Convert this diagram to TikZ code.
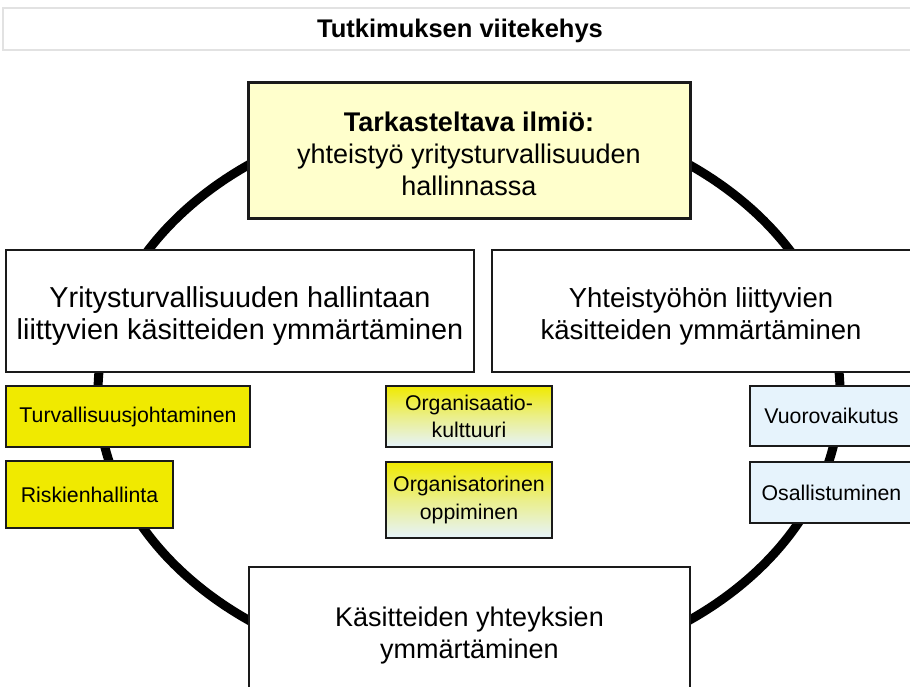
\documentclass[tikz,border=0pt]{standalone}
\usepackage{fontspec}
\setmainfont{Liberation Sans}
\definecolor{phenfill}{RGB}{255,255,204}
\definecolor{conceptyellow}{RGB}{240,234,0}
\definecolor{conceptblue}{RGB}{230,243,252}
\definecolor{edgeline}{RGB}{26,26,26}
\definecolor{titleedge}{RGB}{226,226,226}
\tikzset{
  bigbox/.style={draw=edgeline, line width=2pt, fill=white, inner sep=0pt},
  bigtext/.style={inner sep=0pt, align=center, font=\fontsize{27}{32}\selectfont},
  smallbox/.style={draw=edgeline, line width=2pt, inner sep=0pt,
    align=center, font=\fontsize{21.3}{27.5}\selectfont},
  yellowbox/.style={smallbox, fill=conceptyellow},
  bluebox/.style={smallbox, fill=conceptblue},
  mixbox/.style={smallbox, top color=conceptyellow, bottom color=conceptblue,
    middle color=conceptyellow!45!conceptblue},
  sizebox/.style 2 args={minimum width=#1, minimum height=#2}
}
\begin{document}
\begin{tikzpicture}[x=1pt, y=-1pt]
  \path[use as bounding box, clip] (0,0) rectangle (910,686);
  \fill[white] (0,0) rectangle (910,686);

  % heading bar
  \node[draw=titleedge, line width=2.5pt, fill=white, inner sep=0pt,
        sizebox={914pt}{42pt}] (title) at (460,29) {};
  \node[inner sep=0pt, font=\bfseries\fontsize{25.5}{30}\selectfont]
        (titletext) at ([yshift=-2pt]title.center) {Tutkimuksen viitekehys};

  % the ring that ties the concepts together
  \draw[line width=9pt] (469,392.5) ellipse [x radius=371, y radius=283];

  % phenomenon under study
  \node[bigbox, line width=3pt, fill=phenfill, sizebox={442pt}{136pt}]
        (phen) at (469,150) {};
  \node[bigtext] (phentext) at ([yshift=-4pt]phen.center)
        {\textbf{Tarkasteltava ilmiö:}\\yhteistyö yritysturvallisuuden\\hallinnassa};

  % the three areas of understanding
  \node[bigbox, sizebox={468pt}{122pt}] (secmgmt) at (240,311) {};
  \node[bigtext, font=\fontsize{28.8}{32}\selectfont] (secmgmttext)
        at ([yshift=-5pt]secmgmt.center)
        {Yritysturvallisuuden hallintaan\\liittyvien käsitteiden ymmärtäminen};
  \node[bigbox, sizebox={421pt}{122pt}] (coop) at (702.5,311) {};
  \node[bigtext, font=\fontsize{27.5}{32}\selectfont] (cooptext)
        at ([xshift=-1.5pt, yshift=-5pt]coop.center)
        {Yhteistyöhön liittyvien\\käsitteiden ymmärtäminen};
  \node[bigbox, sizebox={441pt}{133pt}] (links) at (469.5,633.5) {};
  \node[bigtext] (linkstext) at ([yshift=-2pt]links.center)
        {Käsitteiden yhteyksien\\ymmärtäminen};

  % concepts of corporate security management
  \node[yellowbox, sizebox={244pt}{61pt}] (safety) at (128,416.5)
        {Turvallisuusjohtaminen};
  \node[yellowbox, sizebox={167pt}{67pt}] (risk) at (89.5,494.5)
        {Riskienhallinta};

  % shared concepts
  \node[mixbox, sizebox={166pt}{61pt}] (culture) at (469,416.5)
        {Organisaatio-\\kulttuuri};
  \node[mixbox, sizebox={166pt}{76pt}] (learning) at (469,500)
        {Organisatorinen\\oppiminen};

  % concepts of cooperation
  \node[bluebox, sizebox={163pt}{60pt}] (interact) at (831.5,416)
        {Vuorovaikutus};
  \node[bluebox, sizebox={163pt}{61pt}] (partic) at (831.5,492.5)
        {Osallistuminen};
\end{tikzpicture}
\end{document}
